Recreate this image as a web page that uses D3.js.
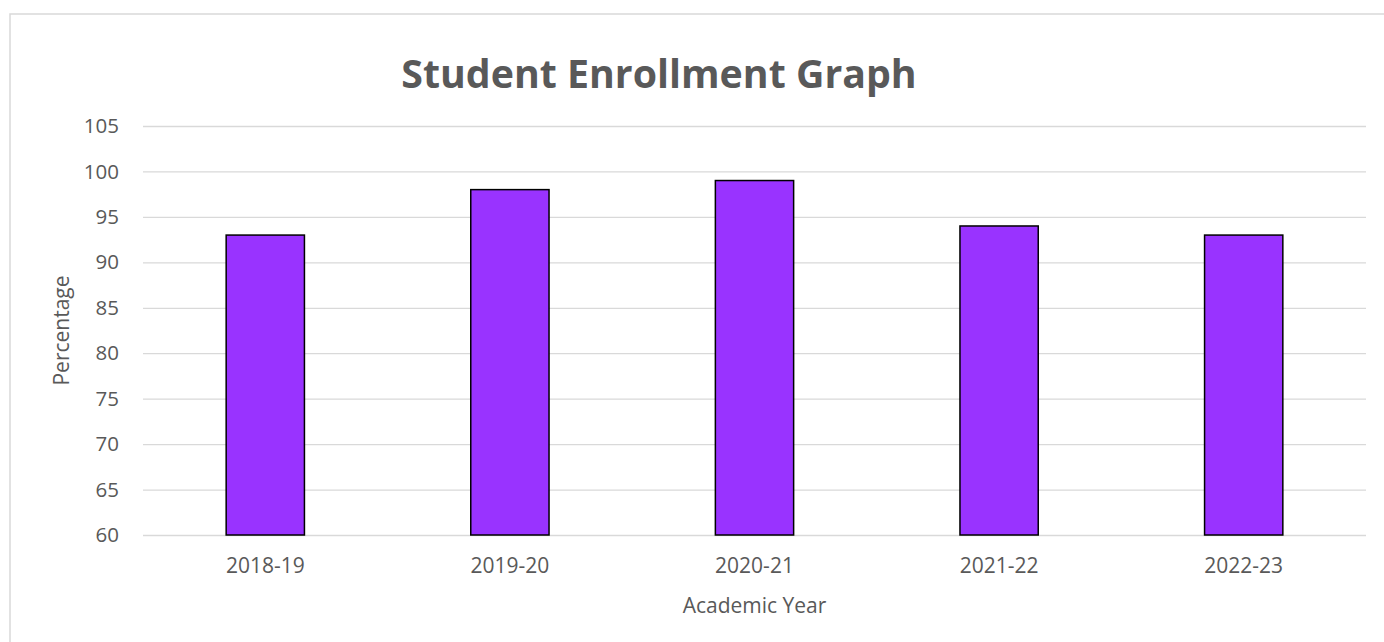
<!DOCTYPE html>
<html>
<head>
<meta charset="utf-8">
<script src="https://cdn.jsdelivr.net/npm/d3@7"></script>
<style>
  html, body { margin: 0; padding: 0; background: #fff; overflow: hidden; }
  svg, svg text { font-family: "Open Sans", "Noto Sans", sans-serif; }
  svg { display: block; }
</style>
</head>
<body>
<svg id="canvas" width="1384" height="642"></svg>
<script>
'use strict';

/* chart data */
const years = ['2018-19', '2019-20', '2020-21', '2021-22', '2022-23'];
const percentages = [93, 98, 99, 94, 93];
const yTicks = [60, 65, 70, 75, 80, 85, 90, 95, 100, 105];

const width = 1384, height = 642;
const margin = {top: 126, right: 18, bottom: 107, left: 143};
const textColor = '#595959';
const font = '"Open Sans", "Noto Sans", sans-serif';

let svg = d3.select('svg#canvas');

/* chart frame, it runs out of the picture on the right and bottom */
svg.append('rect')
  .attr('x', 10).attr('y', 14)
  .attr('width', 1400).attr('height', 700)
  .attr('fill', 'none')
  .attr('stroke', '#d9d9d9')
  .attr('stroke-width', 1.5)
;

let x = d3.scaleBand()
  .domain(years)
  .range([margin.left, width - margin.right])
  .paddingInner(0.68)
  .paddingOuter(0.34)
;
let y = d3.scaleLinear()
  .domain([60, 105])
  .range([height - margin.bottom, margin.top])
;

/* horizontal grid lines */
let yAxis = d3.axisLeft(y)
  .tickValues(yTicks)
  .tickSize(-(width - margin.right - margin.left))
  .tickPadding(24)
;
let gy = svg.append('g')
  .attr('transform', 'translate(' + margin.left + ',0)')
  .attr('font-family', font)
  .call(yAxis)
;
gy.select('.domain').remove();
gy.selectAll('.tick line').attr('stroke', '#d9d9d9').attr('stroke-width', 1.3);
gy.selectAll('.tick text')
  .attr('fill', textColor)
  .style('font-size', '20.5px')
;

/* bars */
svg.append('g').selectAll('rect')
  .data(years)
  .enter().append('rect')
  .attr('x', d => x(d))
  .attr('y', (d, i) => y(percentages[i]))
  .attr('width', x.bandwidth())
  .attr('height', (d, i) => y(60) - y(percentages[i]))
  .attr('fill', '#9933ff')
  .attr('stroke', '#000')
  .attr('stroke-width', 1.5)
;

/* x axis labels */
let xAxis = d3.axisBottom(x).tickSize(0).tickPadding(23);
let gx = svg.append('g')
  .attr('transform', 'translate(0,' + (height - margin.bottom) + ')')
  .attr('font-family', font)
  .call(xAxis)
;
gx.select('.domain').remove();
gx.selectAll('.tick text')
  .attr('fill', textColor)
  .style('font-size', '21px')
;

/* title */
svg.append('text')
  .attr('x', 659).attr('y', 88)
  .attr('text-anchor', 'middle')
  .attr('fill', textColor)
  .style('font-size', '39.3px')
  .style('font-weight', 'bold')
  .text('Student Enrollment Graph')
;

/* axis titles */
svg.append('text')
  .attr('x', (margin.left + width - margin.right) / 2)
  .attr('y', 613)
  .attr('text-anchor', 'middle')
  .attr('fill', textColor)
  .style('font-size', '21px')
  .text('Academic Year')
;
svg.append('text')
  .attr('transform', 'translate(69,' + ((margin.top + height - margin.bottom) / 2) + ') rotate(-90)')
  .attr('text-anchor', 'middle')
  .attr('fill', textColor)
  .style('font-size', '21px')
  .text('Percentage')
;
</script>
</body>
</html>
